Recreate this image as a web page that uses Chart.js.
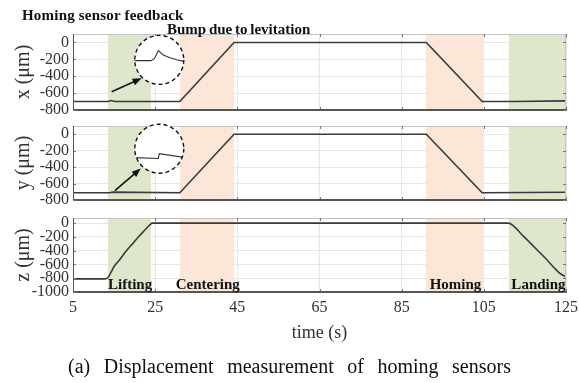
<!DOCTYPE html>
<html>
<head>
<meta charset="utf-8">
<script src="https://cdn.jsdelivr.net/npm/chart.js@4.4.1/dist/chart.umd.min.js"></script>
<style>
  html, body { margin: 0; padding: 0; background: #fff; }
  #wrap { position: relative; width: 579px; height: 383px; overflow: hidden; }
  canvas { position: absolute; left: 0; top: 0; }
  .note { position: absolute; font-family: "Liberation Serif", serif; font-weight: bold; font-size: 15px; line-height: 16px; color: #111; white-space: nowrap; }
  #caption { position: absolute; left: 68px; top: 355px; font-family: "Liberation Serif", serif; font-size: 20px; line-height: 22px; word-spacing: 8.5px; color: #111; white-space: nowrap; }
</style>
</head>
<body>
<div id="wrap">
  <canvas id="cx" width="579" height="383"></canvas>
  <canvas id="cy" width="579" height="383"></canvas>
  <canvas id="cz" width="579" height="383"></canvas>
  <div class="note" style="left:22px; top:7px; letter-spacing:0.2px">Homing sensor feedback</div>
  <div class="note" style="left:167px; top:21px; word-spacing:-1px">Bump due to levitation</div>
  <div id="caption">(a) Displacement measurement of homing sensors</div>
</div>
<script>
// data
const timeX = [5, 13.5, 14.3, 15.2, 31, 44.2, 91, 104.6, 112, 125];
const valX  = [-700, -700, -688, -700, -700, 0, 0, -700, -700, -692];
const timeY = [5, 14, 14.6, 31, 44.2, 91, 104.6, 125];
const valY  = [-712, -712, -704, -712, 0, 0, -712, -706];
const timeZ = [5, 12.8, 13.5, 14.2, 15, 16.5, 18, 19.5, 21, 22.5, 23.7, 24.3, 111, 112, 114, 116, 118, 120, 122, 123.5, 125];
const valZ  = [-810, -810, -790, -720, -630, -520, -400, -300, -195, -100, -25, 0, 0, -30, -150, -270, -390, -510, -640, -730, -780];

const phaseNames  = ['Lifting', 'Centering', 'Homing', 'Landing'];
const phaseStart  = [13.5, 31, 90.9, 111.1];
const phaseEnd    = [24, 44.2, 105, 125];
const phaseLabelX = [18.9, 37.8, 98.1, 118.3];
const phaseColor  = ['#dee7cc', '#fce6d7', '#fce6d7', '#dee7cc'];

// zoomed insets (circle centre / arrow in data units, curve relative to radius)
const insetX = { cx: 26, cy: -207, fromX: 14.4, fromY: -585, toX: 21.7, toY: -425,
  u: [-1.1, -0.34, -0.2, -0.04, 0.16, 0.44, 0.71, 1.1],
  v: [0.03, 0.03, -0.05, -0.38, -0.2, -0.09, -0.01, 0.08] };
const insetY = { cx: 26, cy: -176, fromX: 15.2, fromY: -686, toX: 21.5, toY: -418,
  u: [-1.1, -0.04, 0, 1.1],
  v: [0.36, 0.4, 0.2, 0.37] };

const FAMILY = "'Liberation Serif', 'DejaVu Serif', serif";
const tickFont = { family: FAMILY, size: 16 };

const bands = {
  id: 'bands',
  beforeDatasetsDraw(chart) {
    const { ctx, chartArea: a, scales: { x } } = chart;
    ctx.save();
    phaseStart.forEach((s, i) => {
      const x0 = x.getPixelForValue(s), x1 = x.getPixelForValue(phaseEnd[i]);
      ctx.fillStyle = phaseColor[i];
      ctx.fillRect(x0, a.top, x1 - x0, a.bottom - a.top);
    });
    ctx.restore();
  }
};

const frame = {
  id: 'frame',
  afterDatasetsDraw(chart) {
    const { ctx, chartArea: a, scales: { x, y } } = chart;
    ctx.save();
    ctx.lineWidth = 1;
    ctx.strokeStyle = '#c4c4c4';
    ctx.beginPath();
    ctx.moveTo(a.left, a.top + 0.5); ctx.lineTo(a.right, a.top + 0.5);
    ctx.moveTo(a.right - 0.5, a.top); ctx.lineTo(a.right - 0.5, a.bottom);
    ctx.stroke();
    ctx.strokeStyle = '#777';
    ctx.beginPath();
    x.ticks.forEach(t => {
      const px = Math.round(x.getPixelForValue(t.value)) + 0.5;
      ctx.moveTo(px, a.top); ctx.lineTo(px, a.top + 3);
      ctx.moveTo(px, a.bottom); ctx.lineTo(px, a.bottom - 3);
    });
    y.ticks.forEach(t => {
      const py = Math.round(y.getPixelForValue(t.value)) + 0.5;
      ctx.moveTo(a.left, py); ctx.lineTo(a.left + 3, py);
      ctx.moveTo(a.right, py); ctx.lineTo(a.right - 3, py);
    });
    ctx.stroke();
    ctx.strokeStyle = '#555';
    ctx.beginPath();
    ctx.moveTo(a.left + 0.5, a.top); ctx.lineTo(a.left + 0.5, a.bottom);
    ctx.moveTo(a.left, a.bottom - 0.5); ctx.lineTo(a.right, a.bottom - 0.5);
    ctx.stroke();
    ctx.restore();
  }
};

const phaseLabels = {
  id: 'phaseLabels',
  afterDatasetsDraw(chart) {
    const { ctx, chartArea: a, scales: { x } } = chart;
    ctx.save();
    ctx.font = 'bold 15px ' + FAMILY;
    ctx.fillStyle = '#111';
    ctx.textAlign = 'center';
    ctx.textBaseline = 'middle';
    phaseNames.forEach((n, i) => ctx.fillText(n, x.getPixelForValue(phaseLabelX[i]), a.bottom - 7));
    ctx.restore();
  }
};

function insetPlugin(ins) {
  return {
    id: 'inset',
    afterDatasetsDraw(chart) {
      const { ctx, scales: { x, y } } = chart;
      const r = 24.5;
      const cx = x.getPixelForValue(ins.cx), cy = y.getPixelForValue(ins.cy);
      const x0 = x.getPixelForValue(ins.fromX), y0 = y.getPixelForValue(ins.fromY);
      const x1 = x.getPixelForValue(ins.toX), y1 = y.getPixelForValue(ins.toY);
      ctx.save();
      // arrow
      ctx.strokeStyle = '#111';
      ctx.fillStyle = '#111';
      ctx.lineWidth = 1.6;
      const ang = Math.atan2(y1 - y0, x1 - x0);
      ctx.beginPath();
      ctx.moveTo(x0, y0);
      ctx.lineTo(x1 - 6 * Math.cos(ang), y1 - 6 * Math.sin(ang));
      ctx.stroke();
      ctx.beginPath();
      ctx.moveTo(x1, y1);
      ctx.lineTo(x1 - 9 * Math.cos(ang) + 3.5 * Math.sin(ang), y1 - 9 * Math.sin(ang) - 3.5 * Math.cos(ang));
      ctx.lineTo(x1 - 9 * Math.cos(ang) - 3.5 * Math.sin(ang), y1 - 9 * Math.sin(ang) + 3.5 * Math.cos(ang));
      ctx.closePath();
      ctx.fill();
      // circle
      ctx.beginPath();
      ctx.arc(cx, cy, r, 0, Math.PI * 2);
      ctx.fillStyle = '#fff';
      ctx.fill();
      ctx.save();
      ctx.clip();
      ctx.beginPath();
      ins.u.forEach((u, i) => {
        const px = cx + u * r, py = cy + ins.v[i] * r;
        if (i === 0) ctx.moveTo(px, py); else ctx.lineTo(px, py);
      });
      ctx.strokeStyle = '#333';
      ctx.lineWidth = 1.1;
      ctx.stroke();
      ctx.restore();
      ctx.beginPath();
      ctx.arc(cx, cy, r, 0, Math.PI * 2);
      ctx.setLineDash([4, 3]);
      ctx.lineWidth = 1.4;
      ctx.strokeStyle = '#111';
      ctx.stroke();
      ctx.restore();
    }
  };
}

function makePanel(id, times, vals, yMin, yMax, title, top, bottom, isLast, extra) {
  const xAxisH = isLast ? 54 : 0;
  return new Chart(document.getElementById(id), {
    type: 'line',
    data: {
      datasets: [{
        data: times.map((t, i) => ({ x: t, y: vals[i] })),
        borderColor: '#3a3a3a',
        borderWidth: 1.6,
        pointRadius: 0,
        cubicInterpolationMode: id === 'cz' ? 'monotone' : 'default'
      }]
    },
    options: {
      responsive: false,
      animation: false,
      layout: { padding: { left: 8, right: 13, top: top, bottom: 383 - bottom - xAxisH } },
      plugins: { legend: { display: false }, tooltip: { enabled: false } },
      scales: {
        x: {
          type: 'linear', min: 5, max: 125,
          ticks: { stepSize: 20, display: isLast, font: tickFont, color: '#333', padding: 6, maxRotation: 0,
            callback: v => String(v) },
          grid: { color: '#e6e6e6', drawTicks: false },
          border: { color: '#555' },
          title: { display: isLast, text: 'time (s)', font: { family: FAMILY, size: 18 }, color: '#333', padding: { top: 0, bottom: 2 } },
          afterFit: s => { s.height = xAxisH; s.paddingLeft = 0; s.paddingRight = 0; }
        },
        y: {
          min: yMin, max: yMax,
          ticks: { stepSize: 200, includeBounds: false, autoSkip: false, font: tickFont, color: '#333', padding: 4,
            callback: v => String(v) },
          grid: { color: '#e6e6e6', drawTicks: false },
          border: { color: '#555' },
          title: { display: true, text: title, font: { family: FAMILY, size: 20 }, color: '#333', padding: { top: 4, bottom: 0 } },
          afterFit: s => { s.width = 65; s.paddingTop = 0; s.paddingBottom = 0; }
        }
      }
    },
    plugins: [bands, frame].concat(extra)
  });
}

const chartX = makePanel('cx', timeX, valX, -800, 100, 'x (μm)', 34, 110, false, [insetPlugin(insetX)]);
const chartY = makePanel('cy', timeY, valY, -800, 100, 'y (μm)', 126, 200, false, [insetPlugin(insetY)]);
const chartZ = makePanel('cz', timeZ, valZ, -1000, 75, 'z (μm)', 218, 292, true, [phaseLabels]);
</script>
</body>
</html>
